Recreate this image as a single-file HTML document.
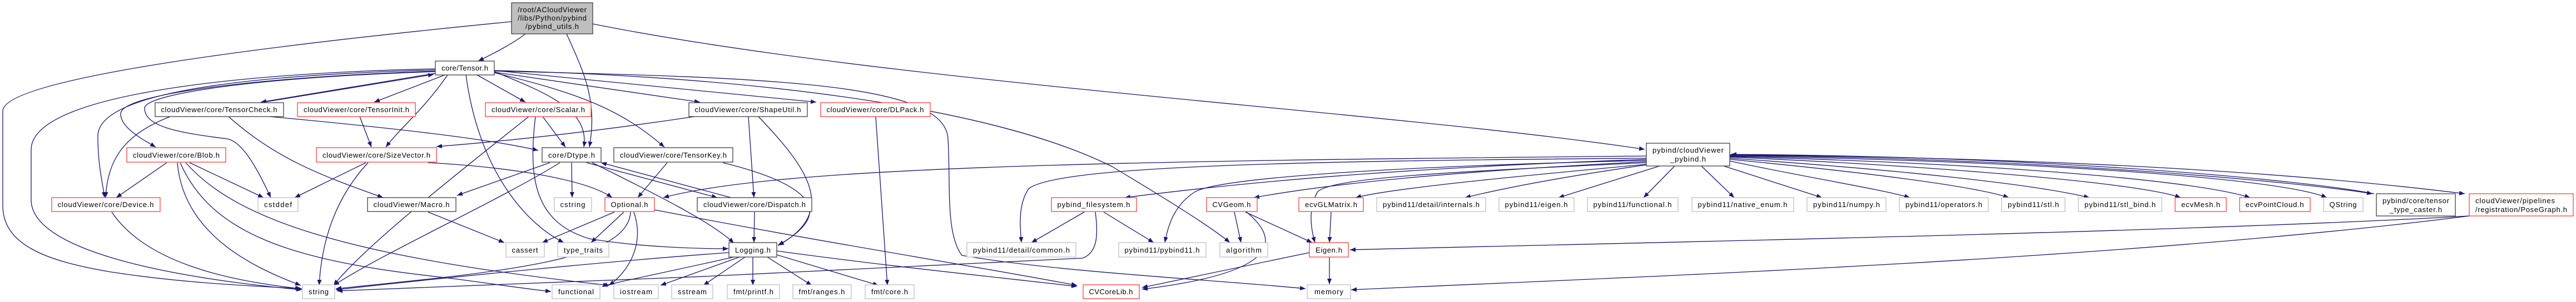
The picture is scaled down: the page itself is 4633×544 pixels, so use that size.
<!DOCTYPE html>
<html><head><meta charset="utf-8"><style>
html,body{margin:0;padding:0;background:#fff;}
svg{display:block;}
text{font-family:"Liberation Sans",sans-serif;font-size:13px;fill:#000;}
.e{fill:none;stroke:#191970;stroke-width:1.3;marker-end:url(#a);}
.b{fill:#fff;stroke:#404040;stroke-width:1.3;}
.r{fill:#fff;stroke:#ff4040;stroke-width:1.3;}
.g{fill:#fff;stroke:#bfbfbf;stroke-width:1.3;}
</style></head><body>
<svg width="4633" height="544" viewBox="0 0 4633 544" xmlns="http://www.w3.org/2000/svg">
<defs><marker id="a" markerUnits="userSpaceOnUse" markerWidth="11" markerHeight="8" refX="10" refY="4" orient="auto"><path d="M0,0 L10,4 L0,8 z" fill="#191970"/></marker></defs>
<g>
<path class="e" d="M945,61 C920,80 890,95 860,110"/>
<path class="e" d="M1019,61 C1050,130 1075,180 1060,265"/>
<path class="e" d="M1066,43 C1600,150 2500,200 2958,269"/>
<path class="e" d="M920,39 C500,80 5,140 5,200 L5,370 C5,440 80,470 200,490 C330,510 450,515 543,520"/>
<path class="e" d="M783,124 C500,130 56,160 56,270 L56,360 C56,450 300,500 543,522"/>
<path class="e" d="M783,126 C450,135 176,165 176,245 C176,300 185,330 188,356"/>
<path class="e" d="M783,128 C450,140 217,170 217,205 C217,230 255,250 280,265"/>
<path class="e" d="M783,129 C450,140 260,170 260,195 C260,230 330,240 408,250 C440,255 470,320 487,356"/>
<path class="e" d="M783,132 L469,184"/>
<path class="e" d="M474,184 L780,134"/>
<path class="e" d="M800,135 L673,184"/>
<path class="e" d="M805,135 C760,200 720,230 694,265"/>
<path class="e" d="M858,135 L945,184"/>
<path class="e" d="M838,135 C860,300 940,400 1014,437"/>
<path class="e" d="M889,129 C990,170 1060,200 1050,265"/>
<path class="e" d="M889,131 C1050,170 1120,200 1195,265"/>
<path class="e" d="M889,130 L1259,184"/>
<path class="e" d="M889,127 L1468,184"/>
<path class="e" d="M889,128 C1400,140 1700,150 1705,250 C1710,330 1700,420 1730,460 C1900,490 2200,505 2348,520"/>
<path class="e" d="M889,127 C1400,140 1800,200 2000,300 C2100,360 2180,410 2212,437"/>
<path class="e" d="M306,210 C230,240 194,280 190,356"/>
<path class="e" d="M411,210 C500,290 590,320 689,356"/>
<path class="e" d="M485,210 C700,230 880,250 968,271"/>
<path class="e" d="M647,210 L668,265"/>
<path class="e" d="M300,293 L209,356"/>
<path class="e" d="M341,293 L474,356"/>
<path class="e" d="M319,293 C330,420 450,480 541,514"/>
<path class="e" d="M324,293 C380,420 520,470 800,500 C880,510 940,520 991,525"/>
<path class="e" d="M334,293 C420,390 600,460 1095,514"/>
<path class="e" d="M658,293 L530,356"/>
<path class="e" d="M662,293 C600,360 578,440 574,514"/>
<path class="e" d="M770,293 C900,300 1050,320 1101,356"/>
<path class="e" d="M201,382 C260,470 400,505 541,520"/>
<path class="e" d="M770,382 L907,437"/>
<path class="e" d="M1249,210 C1050,240 900,255 785,264"/>
<path class="e" d="M1346,210 L1356,356"/>
<path class="e" d="M1364,210 C1450,300 1510,380 1400,442"/>
<path class="e" d="M1575,210 L1596,514"/>
<path class="e" d="M976,210 L1017,265"/>
<path class="e" d="M951,210 C800,330 650,450 600,514"/>
<path class="e" d="M963,210 C950,320 960,400 1060,430 C1150,445 1250,448 1310,448"/>
<path class="e" d="M989,293 L822,352"/>
<path class="e" d="M1007,293 C900,360 700,450 600,514"/>
<path class="e" d="M1028,293 L1029,356"/>
<path class="e" d="M1055,293 L1290,356"/>
<path class="e" d="M1315,356 L1081,293"/>
<path class="e" d="M1065,293 C1180,350 1280,400 1320,438"/>
<path class="e" d="M1200,293 L1147,356"/>
<path class="e" d="M1300,293 C1450,330 1510,380 1399,442"/>
<path class="e" d="M1357,382 L1356,437"/>
<path class="e" d="M1105,382 L975,437"/>
<path class="e" d="M1122,382 L1063,437"/>
<path class="e" d="M1140,382 C1160,440 1130,490 1095,514"/>
<path class="e" d="M1134,382 C1130,470 900,490 604,520"/>
<path class="e" d="M1177,378 C1500,440 1700,470 1937,514"/>
<path class="e" d="M1311,455 C1100,470 800,500 604,522"/>
<path class="e" d="M1320,463 C1200,490 1100,510 1083,516"/>
<path class="e" d="M1330,463 L1188,514"/>
<path class="e" d="M1340,463 L1265,514"/>
<path class="e" d="M1354,463 L1354,514"/>
<path class="e" d="M1380,463 L1460,514"/>
<path class="e" d="M1397,459 L1580,514"/>
<path class="e" d="M1397,452 C1600,480 1800,500 1937,516"/>
<path class="e" d="M1950,382 L1855,437"/>
<path class="e" d="M1985,382 L2075,437"/>
<path class="e" d="M1970,382 C1975,420 1975,455 1947,465 C1700,480 900,515 606,524"/>
<path class="e" d="M2220,382 L2232,437"/>
<path class="e" d="M2240,382 L2360,437"/>
<path class="e" d="M2242,382 C2300,430 2310,490 2054,521"/>
<path class="e" d="M2394,382 L2391,437"/>
<path class="e" d="M2355,455 L2054,518"/>
<path class="e" d="M2391,463 L2391,512"/>
<path class="e" d="M4441,389 C3900,420 2800,440 2428,450"/>
<path class="e" d="M4441,389 C3800,470 2900,500 2430,522"/>
<path class="e" d="M2961,281 C2000,290 1400,300 1193,356"/>
<path class="e" d="M2961,285 C2300,290 1900,300 1850,340 C1830,370 1835,410 1837,437"/>
<path class="e" d="M2961,287 C2600,300 2300,320 2023,356"/>
<path class="e" d="M2961,289 C2500,300 2200,320 2150,345 C2110,370 2100,410 2095,437"/>
<path class="e" d="M2961,291 C2600,310 2400,330 2255,356"/>
<path class="e" d="M2961,293 C2600,310 2400,320 2370,345 C2350,380 2360,420 2365,437"/>
<path class="e" d="M2961,296 C2700,320 2500,340 2438,356"/>
<path class="e" d="M2961,297 C2800,320 2700,340 2635,356"/>
<path class="e" d="M2985,299 L2803,356"/>
<path class="e" d="M3012,299 L2956,356"/>
<path class="e" d="M3060,299 L3119,356"/>
<path class="e" d="M3100,299 L3277,356"/>
<path class="e" d="M3111,290 C3250,320 3380,340 3435,356"/>
<path class="e" d="M3111,287 C3350,310 3550,335 3613,356"/>
<path class="e" d="M3111,285 C3400,305 3650,330 3758,356"/>
<path class="e" d="M3111,283 C3500,300 3850,330 3922,356"/>
<path class="e" d="M3111,282 C3600,295 3950,325 4047,356"/>
<path class="e" d="M3111,281 C3650,290 4100,320 4185,356"/>
<path class="e" d="M3111,280 C3700,285 4150,330 4267,349"/>
<path class="e" d="M4270,349 C4150,325 3700,282 3113,278"/>
<path class="e" d="M3111,279 C3800,285 4200,320 4433,349"/>
</g>
<g>
<rect x="920" y="5" width="146" height="56" fill="#bfbfbf" stroke="#404040" stroke-width="1.3"/>
<text x="993" y="22" text-anchor="middle" textLength="124">/root/ACloudViewer</text>
<text x="993" y="37" text-anchor="middle" textLength="124">/libs/Python/pybind</text>
<text x="993" y="52" text-anchor="middle" textLength="96">/pybind_utils.h</text>

<rect class="b" x="2961" y="258" width="150" height="41"/>
<text x="3036" y="275" text-anchor="middle" textLength="128">pybind/cloudViewer</text>
<text x="3036" y="291" text-anchor="middle" textLength="64">_pybind.h</text>

<rect class="b" x="4274" y="349" width="142" height="40"/>
<text x="4345" y="366" text-anchor="middle" textLength="120">pybind/core/tensor</text>
<text x="4345" y="382" text-anchor="middle" textLength="94">_type_caster.h</text>

<rect class="r" x="4441" y="349" width="187" height="40"/>
<text x="4452" y="366" textLength="143">cloudViewer/pipelines</text>
<text x="4452" y="382" textLength="165">/registration/PoseGraph.h</text>
</g>
<g id="n1">
<rect class="b" x="783" y="110" width="106" height="25"/><text x="836" y="127" text-anchor="middle" textLength="84">core/Tensor.h</text>
<rect class="b" x="279" y="185" width="231" height="25"/><text x="394" y="202" text-anchor="middle" textLength="209">cloudViewer/core/TensorCheck.h</text>
<rect class="r" x="535" y="185" width="212" height="25"/><text x="641" y="202" text-anchor="middle" textLength="190">cloudViewer/core/TensorInit.h</text>
<rect class="r" x="873" y="185" width="190" height="25"/><text x="968" y="202" text-anchor="middle" textLength="168">cloudViewer/core/Scalar.h</text>
<rect class="b" x="1239" y="185" width="213" height="25"/><text x="1345" y="202" text-anchor="middle" textLength="191">cloudViewer/core/ShapeUtil.h</text>
<rect class="r" x="1476" y="185" width="197" height="25"/><text x="1574" y="202" text-anchor="middle" textLength="175">cloudViewer/core/DLPack.h</text>
<rect class="r" x="228" y="266" width="178" height="26"/><text x="317" y="284" text-anchor="middle" textLength="156">cloudViewer/core/Blob.h</text>
<rect class="r" x="569" y="266" width="216" height="26"/><text x="677" y="284" text-anchor="middle" textLength="194">cloudViewer/core/SizeVector.h</text>
<rect class="b" x="975" y="266" width="106" height="26"/><text x="1028" y="284" text-anchor="middle" textLength="84">core/Dtype.h</text>
<rect class="b" x="1104" y="266" width="214" height="26"/><text x="1211" y="284" text-anchor="middle" textLength="192">cloudViewer/core/TensorKey.h</text>
<rect class="r" x="93" y="356" width="195" height="25"/><text x="190" y="373" text-anchor="middle" textLength="173">cloudViewer/core/Device.h</text>
<rect class="g" x="464" y="356" width="72" height="25"/><text x="500" y="373" text-anchor="middle" textLength="50">cstddef</text>
<rect class="b" x="661" y="356" width="159" height="25"/><text x="740" y="373" text-anchor="middle" textLength="137">cloudViewer/Macro.h</text>
<rect class="g" x="997" y="356" width="67" height="25"/><text x="1030" y="373" text-anchor="middle" textLength="45">cstring</text>
<rect class="r" x="1088" y="356" width="89" height="25"/><text x="1132" y="373" text-anchor="middle" textLength="67">Optional.h</text>
<rect class="b" x="1254" y="356" width="206" height="25"/><text x="1357" y="373" text-anchor="middle" textLength="184">cloudViewer/core/Dispatch.h</text>
<rect class="r" x="1891" y="356" width="153" height="25"/><text x="1967" y="373" text-anchor="middle" textLength="131">pybind_filesystem.h</text>
<rect class="r" x="2170" y="356" width="91" height="25"/><text x="2215" y="373" text-anchor="middle" textLength="69">CVGeom.h</text>
<rect class="r" x="2336" y="356" width="116" height="25"/><text x="2394" y="373" text-anchor="middle" textLength="94">ecvGLMatrix.h</text>
<rect class="g" x="2476" y="356" width="196" height="25"/><text x="2574" y="373" text-anchor="middle" textLength="174">pybind11/detail/internals.h</text>
<rect class="g" x="2696" y="356" width="135" height="25"/><text x="2763" y="373" text-anchor="middle" textLength="113">pybind11/eigen.h</text>
<rect class="g" x="2855" y="356" width="163" height="25"/><text x="2936" y="373" text-anchor="middle" textLength="141">pybind11/functional.h</text>
<rect class="g" x="3043" y="356" width="183" height="25"/><text x="3134" y="373" text-anchor="middle" textLength="161">pybind11/native_enum.h</text>
<rect class="g" x="3250" y="356" width="142" height="25"/><text x="3321" y="373" text-anchor="middle" textLength="120">pybind11/numpy.h</text>
<rect class="g" x="3416" y="356" width="160" height="25"/><text x="3496" y="373" text-anchor="middle" textLength="138">pybind11/operators.h</text>
<rect class="g" x="3600" y="356" width="114" height="25"/><text x="3657" y="373" text-anchor="middle" textLength="92">pybind11/stl.h</text>
<rect class="g" x="3738" y="356" width="150" height="25"/><text x="3813" y="373" text-anchor="middle" textLength="128">pybind11/stl_bind.h</text>
<rect class="r" x="3912" y="356" width="92" height="25"/><text x="3958" y="373" text-anchor="middle" textLength="70">ecvMesh.h</text>
<rect class="r" x="4028" y="356" width="127" height="25"/><text x="4091" y="373" text-anchor="middle" textLength="105">ecvPointCloud.h</text>
<rect class="g" x="4179" y="356" width="71" height="25"/><text x="4214" y="373" text-anchor="middle" textLength="49">QString</text>
<rect class="g" x="910" y="437" width="69" height="26"/><text x="944" y="455" text-anchor="middle" textLength="47">cassert</text>
<rect class="g" x="1003" y="437" width="92" height="26"/><text x="1049" y="455" text-anchor="middle" textLength="70">type_traits</text>
<rect class="b" x="1311" y="437" width="86" height="26"/><text x="1354" y="455" text-anchor="middle" textLength="64">Logging.h</text>
<rect class="g" x="1739" y="437" width="196" height="26"/><text x="1837" y="455" text-anchor="middle" textLength="174">pybind11/detail/common.h</text>
<rect class="g" x="2012" y="437" width="157" height="26"/><text x="2090" y="455" text-anchor="middle" textLength="135">pybind11/pybind11.h</text>
<rect class="g" x="2194" y="437" width="86" height="26"/><text x="2237" y="455" text-anchor="middle" textLength="64">algorithm</text>
<rect class="r" x="2355" y="437" width="70" height="26"/><text x="2390" y="455" text-anchor="middle" textLength="48">Eigen.h</text>
<rect class="g" x="544" y="513" width="58" height="25"/><text x="573" y="530" text-anchor="middle" textLength="36">string</text>
<rect class="g" x="993" y="513" width="86" height="25"/><text x="1036" y="530" text-anchor="middle" textLength="64">functional</text>
<rect class="g" x="1104" y="513" width="80" height="25"/><text x="1144" y="530" text-anchor="middle" textLength="58">iostream</text>
<rect class="g" x="1208" y="513" width="74" height="25"/><text x="1245" y="530" text-anchor="middle" textLength="52">sstream</text>
<rect class="g" x="1308" y="513" width="94" height="25"/><text x="1355" y="530" text-anchor="middle" textLength="72">fmt/printf.h</text>
<rect class="g" x="1426" y="513" width="105" height="25"/><text x="1478" y="530" text-anchor="middle" textLength="83">fmt/ranges.h</text>
<rect class="g" x="1556" y="513" width="88" height="25"/><text x="1600" y="530" text-anchor="middle" textLength="66">fmt/core.h</text>
<rect class="r" x="1948" y="513" width="101" height="25"/><text x="1998" y="530" text-anchor="middle" textLength="79">CVCoreLib.h</text>
<rect class="g" x="2351" y="513" width="78" height="25"/><text x="2390" y="530" text-anchor="middle" textLength="52">memory</text>
</g>
</svg>
</body></html>
